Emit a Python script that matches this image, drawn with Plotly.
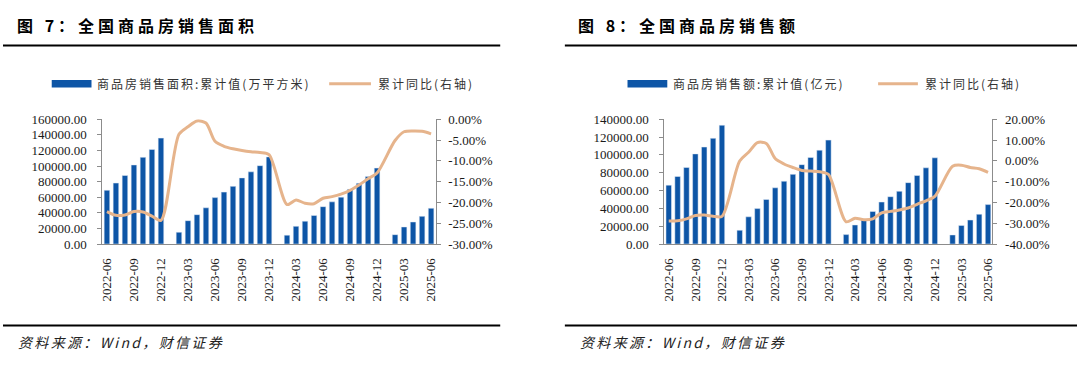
import plotly.graph_objects as go

# ---------------- data ----------------
months = ["2022-06", "2022-07", "2022-08", "2022-09", "2022-10", "2022-11", "2022-12",
          "2023-01", "2023-02", "2023-03", "2023-04", "2023-05", "2023-06", "2023-07",
          "2023-08", "2023-09", "2023-10", "2023-11", "2023-12",
          "2024-01", "2024-02", "2024-03", "2024-04", "2024-05", "2024-06", "2024-07",
          "2024-08", "2024-09", "2024-10", "2024-11", "2024-12",
          "2025-01", "2025-02", "2025-03", "2025-04", "2025-05", "2025-06"]

tick_months = ["2022-06", "2022-09", "2022-12", "2023-03", "2023-06", "2023-09", "2023-12",
               "2024-03", "2024-06", "2024-09", "2024-12", "2025-03", "2025-06"]

# 商品房销售面积:累计值(万平方米)
area_cum = [68923, 78178, 87890, 101422, 111179, 121250, 135837,
            None, 15133, 29946, 37636, 46440, 59515, 66563, 73949, 84806, 92579, 100509, 111735,
            None, 11369, 22668, 29252, 36642, 47916, 54055, 60140, 70284, 77930, 86724, 97385,
            None, 12003, 21869, 28262, 35515, 45851]
# 累计同比 (%)
area_yoy = [-22.2, -23.1, -23.0, -22.2, -22.3, -23.3, -24.3,
            None, -3.6, -1.8, -0.4, -0.9, -5.3, -6.5, -7.1, -7.5, -7.8, -8.0, -8.5,
            None, -20.5, -19.4, -20.2, -20.3, -19.0, -18.6, -18.0, -17.1, -15.8, -14.3, -12.9,
            None, -5.1, -3.0, -2.8, -2.9, -3.5]

# 商品房销售额:累计值(亿元)
value_cum = [66072, 75763, 85870, 101145, 108832, 118648, 133308,
             None, 15459, 30545, 39750, 49997, 63092, 70450, 78158, 89070, 97161, 105318, 116622,
             None, 10566, 21355, 28067, 36471, 47133, 53095, 59162, 68880, 76855, 85508, 96750,
             None, 10177, 20855, 26909, 33401, 44241]
value_yoy = [-28.9, -28.8, -27.9, -26.3, -26.1, -26.6, -26.7,
             None, -0.1, 4.1, 8.8, 8.4, 1.1, -1.5, -3.2, -4.6, -4.9, -5.2, -6.5,
             None, -29.3, -27.6, -28.3, -27.9, -25.0, -24.3, -23.6, -22.7, -20.9, -19.2, -17.1,
             None, -2.6, -2.1, -3.2, -3.8, -5.5]

area_left_ticks = [0, 20000, 40000, 60000, 80000, 100000, 120000, 140000, 160000]
area_left_text = ["0.00", "20000.00", "40000.00", "60000.00", "80000.00",
                  "100000.00", "120000.00", "140000.00", "160000.00"]
area_right_ticks = [-30, -25, -20, -15, -10, -5, 0]
area_right_text = ["-30.00%", "-25.00%", "-20.00%", "-15.00%", "-10.00%", "-5.00%", "0.00%"]

value_left_ticks = [0, 20000, 40000, 60000, 80000, 100000, 120000, 140000]
value_left_text = ["0.00", "20000.00", "40000.00", "60000.00", "80000.00",
                   "100000.00", "120000.00", "140000.00"]
value_right_ticks = [-40, -30, -20, -10, 0, 10, 20]
value_right_text = ["-40.00%", "-30.00%", "-20.00%", "-10.00%", "0.00%", "10.00%", "20.00%"]

title_left = "图 7：全国商品房销售面积"
title_right = "图 8：全国商品房销售额"
bar_name_left = "商品房销售面积:累计值(万平方米)"
bar_name_right = "商品房销售额:累计值(亿元)"
line_name = "累计同比(右轴)"
source_text = "资料来源：Wind，财信证券"

# ---------------- style ----------------
W, H = 1080, 371
BAR_COLOR = "#0D55A6"
LINE_COLOR = "#E6B48C"
AXIS_COLOR = "#8C8C8C"
NUM_FONT = "Liberation Serif"
CJK_FONT = "Noto Sans CJK SC"


def px(x):
    return x / W


def py(y):
    return 1 - y / H


def spaced(s, sp="\u2006"):
    return sp.join(s)


fig = go.Figure()

fig.add_trace(go.Bar(x=months, y=area_cum, marker_color=BAR_COLOR, xaxis="x", yaxis="y",
                     showlegend=False))
fig.add_trace(go.Scatter(x=months, y=area_yoy, mode="lines", connectgaps=True,
                         line=dict(color=LINE_COLOR, width=3, shape="spline", smoothing=0.8),
                         xaxis="x", yaxis="y2", showlegend=False))
fig.add_trace(go.Bar(x=months, y=value_cum, marker_color=BAR_COLOR, xaxis="x2", yaxis="y3",
                     showlegend=False))
fig.add_trace(go.Scatter(x=months, y=value_yoy, mode="lines", connectgaps=True,
                         line=dict(color=LINE_COLOR, width=3, shape="spline", smoothing=0.8),
                         xaxis="x2", yaxis="y4", showlegend=False))

tickfont = dict(family=NUM_FONT, size=13, color="#1a1a1a")

xcommon = dict(type="category", categoryorder="array", categoryarray=months,
               range=[-0.5, len(months) - 0.5],
               tickmode="array", tickvals=tick_months, ticktext=tick_months,
               tickangle=-90, tickfont=tickfont, showgrid=False, zeroline=False,
               showline=True, linecolor=AXIS_COLOR, linewidth=1,
               ticks="", ticklabelstandoff=8)
ycommon = dict(showgrid=False, zeroline=False, showline=True, linecolor=AXIS_COLOR,
               linewidth=1, ticks="outside", ticklen=4, tickcolor=AXIS_COLOR,
               tickfont=tickfont, tickmode="array")

ydom = [py(247), py(117)]

fig.update_layout(
    width=W, height=H, autosize=False,
    margin=dict(l=0, r=0, t=0, b=0),
    paper_bgcolor="white", plot_bgcolor="white",
    bargap=0.38,
    showlegend=False,
    xaxis=dict(domain=[px(100), px(435)], anchor="y", **xcommon),
    yaxis=dict(domain=ydom, anchor="x", range=[0, 160000], tickvals=area_left_ticks,
               ticktext=area_left_text, ticklabelstandoff=8, **ycommon),
    yaxis2=dict(overlaying="y", side="right", anchor="x", range=[-30, 0],
                tickvals=area_right_ticks, ticktext=area_right_text, ticklabelstandoff=5,
                **ycommon),
    xaxis2=dict(domain=[px(665), px(995)], anchor="y3", **xcommon),
    yaxis3=dict(domain=ydom, anchor="x2", range=[0, 140000], tickvals=value_left_ticks,
                ticktext=value_left_text, ticklabelstandoff=8, **ycommon),
    yaxis4=dict(overlaying="y3", side="right", anchor="x2", range=[-40, 20],
                tickvals=value_right_ticks, ticktext=value_right_text, ticklabelstandoff=5,
                **ycommon),
)

shapes = []
annotations = []

for (x0, x1, tx, title, sx, bar_sw, bar_tx, bar_name, line_sw, line_tx) in [
    (0, 500, 12, title_left, 13, (49, 89), 93, bar_name_left, (328, 370), 375),
    (565, 1080, 576, title_right, 578, (628, 668), 672, bar_name_right, (880, 920), 925),
]:
    # top & bottom rules
    shapes.append(dict(type="line", xref="paper", yref="paper", x0=px(x0), x1=px(x1),
                       y0=py(40), y1=py(40), line=dict(color="black", width=2)))
    shapes.append(dict(type="line", xref="paper", yref="paper", x0=px(x0), x1=px(x1),
                       y0=py(332), y1=py(332), line=dict(color="black", width=2)))
    # title
    annotations.append(dict(xref="paper", yref="paper", x=px(tx), y=py(19), xanchor="left",
                            yanchor="middle", showarrow=False,
                            text="<b>" + spaced(title, "\u2005") + "</b>",
                            font=dict(family=CJK_FONT, size=16, color="black")))
    # source
    annotations.append(dict(xref="paper", yref="paper", x=px(sx), y=py(349), xanchor="left",
                            yanchor="middle", showarrow=False,
                            text="<i>" + spaced(source_text, "\u2006") + "</i>",
                            font=dict(family=CJK_FONT, size=14, color="#222222")))
    # legend: bar swatch
    shapes.append(dict(type="rect", xref="paper", yref="paper", x0=px(bar_sw[0]),
                       x1=px(bar_sw[1]), y0=py(84), y1=py(76), fillcolor=BAR_COLOR,
                       line=dict(width=0)))
    annotations.append(dict(xref="paper", yref="paper", x=px(bar_tx), y=py(80),
                            xanchor="left", yanchor="middle", showarrow=False,
                            text=spaced(bar_name), font=dict(family=CJK_FONT, size=12,
                                                             color="#333333")))
    # legend: line swatch
    shapes.append(dict(type="line", xref="paper", yref="paper", x0=px(line_sw[0]),
                       x1=px(line_sw[1]), y0=py(80), y1=py(80),
                       line=dict(color=LINE_COLOR, width=3)))
    annotations.append(dict(xref="paper", yref="paper", x=px(line_tx), y=py(80),
                            xanchor="left", yanchor="middle", showarrow=False,
                            text=spaced(line_name), font=dict(family=CJK_FONT, size=12,
                                                              color="#333333")))

fig.update_layout(shapes=shapes, annotations=annotations)

fig.write_html("out.html", config={"displayModeBar": False},
               post_script="document.body.style.margin='0';")
